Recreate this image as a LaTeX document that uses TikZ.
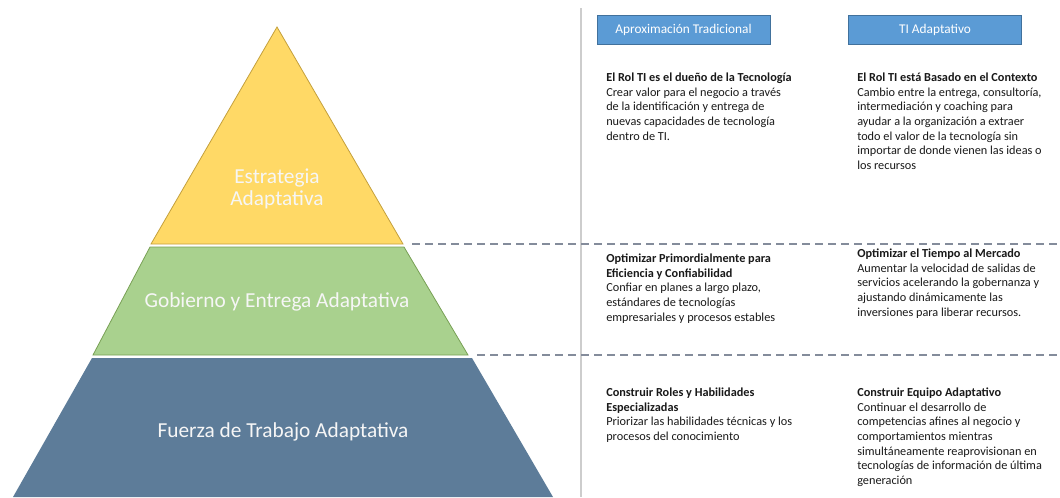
\documentclass[tikz,border=0pt]{standalone}
\usepackage{fontspec}
\setmainfont{Carlito}
\usetikzlibrary{positioning}
\definecolor{stratyellow}{RGB}{255,217,102}
\definecolor{stratedge}{RGB}{196,160,60}
\definecolor{govgreen}{RGB}{169,209,142}
\definecolor{govedge}{RGB}{120,160,85}
\definecolor{forceblue}{RGB}{93,124,153}
\definecolor{headblue}{RGB}{91,155,213}
\definecolor{headedge}{RGB}{65,113,156}
\definecolor{splitgray}{RGB}{132,140,155}
\definecolor{rulegray}{RGB}{205,205,205}
\definecolor{bodytext}{RGB}{25,25,25}
\definecolor{labwhite}{RGB}{246,246,246}
\tikzset{
  layer/.style={line width=0.6pt},
  layerlab/.style={text=labwhite,align=center,font=\fontsize{16}{16.5}\selectfont},
  colhead/.style={draw=headedge,fill=headblue,text=white,line width=0.6pt,
                  minimum width=129.75pt,minimum height=21.75pt,inner sep=0pt,
                  font=\fontsize{10}{12}\selectfont},
  entry/.style={anchor=north west,inner sep=0pt,align=left,text=bodytext,
                font=\fontsize{9.2}{10.9}\selectfont},
  split/.style={splitgray,line width=1.1pt,dash pattern=on 6pt off 3.75pt},
}
\begin{document}
\begin{tikzpicture}[x=0.75pt,y=-0.75pt]
  \path[use as bounding box] (0,0) rectangle (1060,497);

  % pyramid
  \fill[layer,fill=forceblue] (92,358) -- (472,358) -- (553,497) -- (13,497) -- cycle;
  \filldraw[layer,fill=govgreen,draw=govedge] (150,247) -- (404,247) -- (468,355) -- (93,355) -- cycle;
  \filldraw[layer,fill=stratyellow,draw=stratedge] (277,27) -- (403,244) -- (151,244) -- cycle;
  \node[layerlab] (strat) at (277,189) {Estrategia\\Adaptativa};
  \node[layerlab] (gob) at (277,302) {Gobierno y Entrega Adaptativa};
  \node[layerlab] (fuerza) at (283,432) {Fuerza de Trabajo Adaptativa};

  % separators
  \draw[rulegray,line width=0.8pt] (581,8) -- (581,497);
  \coordinate (s1a) at (412,244);
  \coordinate (s1b) at (1060,244);
  \coordinate (s2a) at (477,355);
  \coordinate (s2b) at (1060,355);
  \draw[split] (s1a) -- (s1b);
  \draw[split] (s2a) -- (s2b);

  % column heads
  \node[colhead] (trad) at (683.5,29.5) {Aproximación Tradicional};
  \node[colhead] (adap) at (935,29.5) {TI Adaptativo};

  \node[entry] (trad1) at (606,73)
    {\textbf{El Rol TI es el dueño de la Tecnología}\\Crear valor para el negocio a través\\
     de la identificación y entrega de\\nuevas capacidades de tecnología\\dentro de TI.};
  \node[entry] (adap1) at (857,73)
    {\textbf{El Rol TI está Basado en el Contexto}\\Cambio entre la entrega, consultoría,\\
     intermediación y coaching para\\ayudar a la organización a extraer\\
     todo el valor de la tecnología sin\\importar de donde vienen las ideas o\\los recursos};
  \node[entry] (trad2) at (606,254)
    {\textbf{Optimizar Primordialmente para}\\\textbf{Eficiencia y Confiabilidad}\\
     Confiar en planes a largo plazo,\\estándares de tecnologías\\
     empresariales y procesos estables};
  \node[entry] (adap2) at (857,249)
    {\textbf{Optimizar el Tiempo al Mercado}\\Aumentar la velocidad de salidas de\\
     servicios acelerando la gobernanza y\\ajustando dinámicamente las\\
     inversiones para liberar recursos.};
  \node[entry] (trad3) at (606,388)
    {\textbf{Construir Roles y Habilidades}\\\textbf{Especializadas}\\
     Priorizar las habilidades técnicas y los\\procesos del conocimiento};
  \node[entry] (adap3) at (857,388)
    {\textbf{Construir Equipo Adaptativo}\\Continuar el desarrollo de\\
     competencias afines al negocio y\\comportamientos mientras\\
     simultáneamente reaprovisionan en\\tecnologías de información de última\\generación};
\end{tikzpicture}
\end{document}
